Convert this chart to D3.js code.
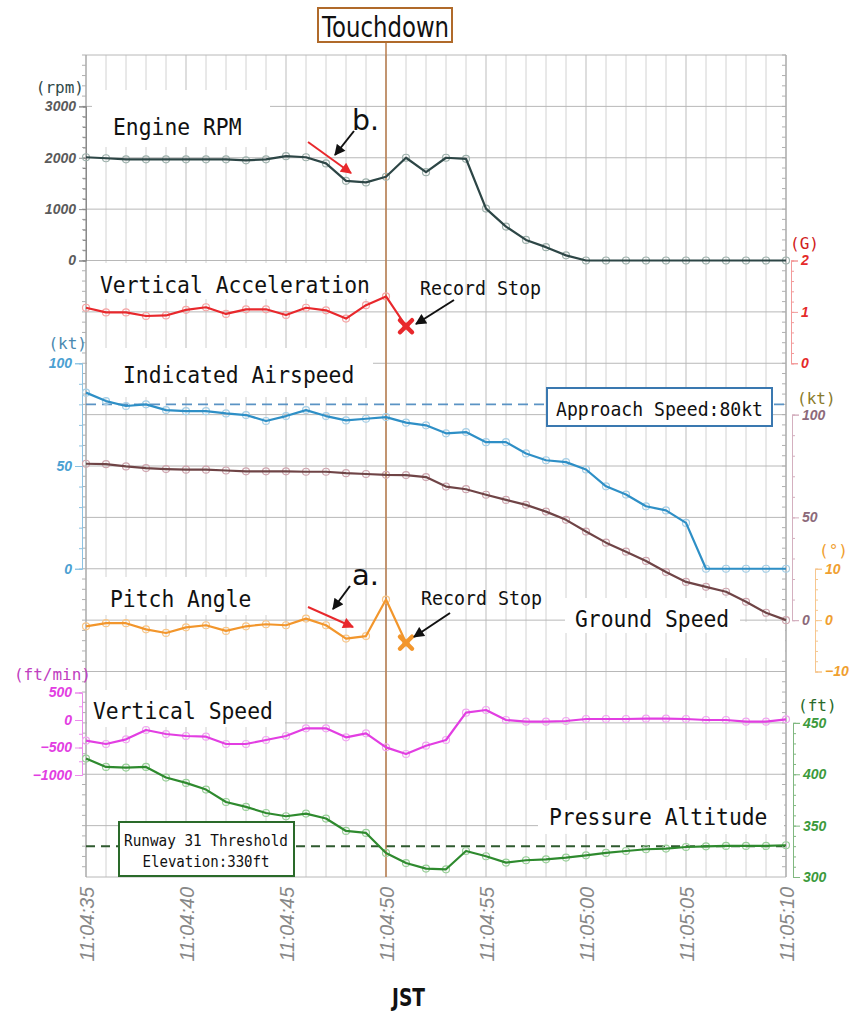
<!DOCTYPE html>
<html>

<head>
  <meta charset="UTF-8">
  <style>
    body { margin: 0; background: #fff; }
    svg { display: block; }
    .mono { font-family: "DejaVu Sans Mono", monospace; }
    .ax .tick text { font-family: "Liberation Sans", Arial, sans-serif; font-style: italic; font-weight: bold; font-size: 14px; }
  </style>
</head>

<body>
  <svg></svg>
  <script src="https://d3js.org/d3.v7.min.js"></script>

  <script>

    let width = 858, height = 1012;

    let parse = d3.timeParse("%H:%M:%S");

    // x axis tick labels (JST)
    let xTickLabels = ["11:04:35", "11:04:40", "11:04:45", "11:04:50", "11:04:55", "11:05:00", "11:05:05", "11:05:10"];
    let touchdownTime = "11:04:50";

    // one sample per second starting 11:04:35
    let t0 = parse(xTickLabels[0]);
    let times = d3.range(36).map(s => new Date(+t0 + s * 1000));

    // Engine RPM
    let rpm = [2010, 1990, 1970, 1970, 1970, 1970, 1970, 1970, 1950, 1970, 2030, 2010, 1890, 1550, 1520, 1630,
      2000, 1720, 2000, 1980, 1010, 660, 400, 260, 100, 0, 0, 0, 0, 0, 0, 0, 0, 0, 0, 0];

    // Vertical acceleration (G) - record stops after 17 samples
    let vAccel = [1.08, 0.99, 0.99, 0.92, 0.93, 1.04, 1.09, 0.96, 1.05, 1.05, 0.94, 1.08, 1.03, 0.87, 1.13, 1.30, 0.72];

    // Indicated airspeed (kt)
    let ias = [85.7, 81.6, 79.2, 80.0, 77.2, 76.7, 76.7, 75.6, 74.8, 71.9, 74.3, 77.2, 74.3, 72.2, 73.0, 73.8,
      71.1, 69.8, 65.9, 66.5, 61.6, 61.6, 56.1, 52.8, 51.9, 48.3, 40.1, 36.1, 30.4, 28.4, 22.3, 0, 0, 0, 0, 0];

    // Ground speed (kt)
    let gs = [76.1, 75.9, 74.8, 74.0, 73.5, 73.2, 73.2, 72.8, 72.4, 72.4, 72.4, 72.2, 72.2, 71.5, 71.1, 70.7,
      70.6, 69.6, 65.0, 63.7, 61.0, 58.5, 56.1, 52.8, 48.8, 43.1, 37.7, 33.3, 28.8, 23.4, 18.6, 16.2, 13.8, 8.9, 3.6, 0];

    // Pitch angle (deg) - record stops after 17 samples
    let pitch = [-1.2, -0.6, -0.6, -1.8, -2.5, -1.4, -1.0, -2.1, -1.2, -0.8, -1.0, 0.3, -1.0, -3.6, -3.1, 4.0, -4.4];

    // Vertical speed (ft/min)
    let vSpeed = [-376, -436, -351, -182, -255, -291, -303, -436, -436, -364, -291, -151, -151, -315, -242, -497,
      -618, -467, -364, 133, 182, 0, -30, -30, -18, 18, 18, 18, 24, 24, 18, 0, 0, -30, -30, 12];

    // Pressure altitude (ft)
    let alt = [415.3, 407.1, 406.5, 407.1, 396.8, 391.6, 385.1, 373.0, 368.2, 362.3, 359.1, 361.7, 356.9, 344.8,
      342.9, 323.4, 313.6, 308.2, 307.5, 325.3, 320.2, 314.0, 316.3, 317.2, 318.9, 321.1, 323.4, 325.3, 327.0,
      327.7, 329.2, 329.9, 330.2, 330.2, 330.2, 330.9];

    let approachSpeed = 80;
    let thresholdElev = 330;

    let svg = d3.select("svg").attr("width", width).attr("height", height);

    let plotL = 86, plotR = 786, plotT = 55, plotB = 877;

    let x = d3.scaleTime()
      .domain([parse(xTickLabels[0]), parse(xTickLabels[xTickLabels.length - 1])])
      .range([plotL, plotR]);

    let row = d3.scaleLinear().domain([0, 16]).range([plotT, plotB]);

    let yRpm = d3.scaleLinear().domain([0, 3000]).range([row(4), row(1)]);
    let yG = d3.scaleLinear().domain([0, 2]).range([row(6), row(4)]);
    let yIas = d3.scaleLinear().domain([0, 100]).range([row(10), row(6)]);
    let yGs = d3.scaleLinear().domain([0, 100]).range([row(11), row(7)]);
    let yPitch = d3.scaleLinear().domain([-10, 10]).range([row(12), row(10)]);
    let yVs = d3.scaleLinear().domain([-1000, 500]).range([775, 692.5]);
    let yAlt = d3.scaleLinear().domain([300, 450]).range([row(16), row(13)]);

    // grid
    let grid = svg.append("g");
    grid.selectAll("line.v")
      .data(times)
      .enter().append("line")
      .attr("x1", d => x(d)).attr("x2", d => x(d))
      .attr("y1", plotT).attr("y2", plotB)
      .attr("stroke", (d, i) => i % 5 == 0 ? "#bdbdbd" : "#d2d2d2")
      .attr("stroke-width", 1);
    grid.selectAll("line.h")
      .data(d3.range(17))
      .enter().append("line")
      .attr("x1", plotL).attr("x2", plotR)
      .attr("y1", d => row(d)).attr("y2", d => row(d))
      .attr("stroke", "#b8b8b8")
      .attr("stroke-width", 1);

    // frame edges with small ticks
    [plotL, plotR].forEach(px => {
      grid.append("line").attr("x1", px).attr("x2", px).attr("y1", plotT).attr("y2", plotB)
        .attr("stroke", "#a0a0a0");
    });
    grid.selectAll("line.ml")
      .data(d3.range(0, 80))
      .enter().append("line")
      .attr("x1", plotL - 4).attr("x2", plotL)
      .attr("y1", d => row(d / 5)).attr("y2", d => row(d / 5))
      .attr("stroke", "#b0b0b0");
    grid.selectAll("line.mr")
      .data(d3.range(0, 80))
      .enter().append("line")
      .attr("x1", plotR - 4).attr("x2", plotR)
      .attr("y1", d => row(d / 5)).attr("y2", d => row(d / 5))
      .attr("stroke", "#b0b0b0");

    // white label boxes hiding the grid
    let whiteBoxes = [
      [92, 90, 270, 147], [90, 263, 377, 299], [87, 348, 373, 397], [98, 577, 267, 615],
      [565, 598, 740, 633], [723, 622, 785, 658], [87, 690, 285, 727], [538, 800, 784, 834]
    ];
    svg.append("g").selectAll("rect")
      .data(whiteBoxes)
      .enter().append("rect")
      .attr("x", d => d[0]).attr("y", d => d[1])
      .attr("width", d => d[2] - d[0]).attr("height", d => d[3] - d[1])
      .attr("fill", "#fff");

    // reference dashed lines
    svg.append("line")
      .attr("x1", plotL).attr("x2", plotR)
      .attr("y1", yIas(approachSpeed)).attr("y2", yIas(approachSpeed))
      .attr("stroke", "#5b93c4").attr("stroke-width", 1.6).attr("stroke-dasharray", "10,6");
    svg.append("line")
      .attr("x1", plotL).attr("x2", plotR + 4)
      .attr("y1", yAlt(thresholdElev)).attr("y2", yAlt(thresholdElev))
      .attr("stroke", "#2f5a2f").attr("stroke-width", 2).attr("stroke-dasharray", "9,6");

    // touchdown line
    svg.append("line")
      .attr("x1", x(parse(touchdownTime))).attr("x2", x(parse(touchdownTime)))
      .attr("y1", 42).attr("y2", plotB)
      .attr("stroke", "#b87c4c").attr("stroke-width", 1.5);

    // axes helper
    function drawAxis(axisFn, scale, xPos, major, minor, lineColor, textColor, fmt) {
      let g = svg.append("g").attr("class", "ax").attr("transform", "translate(" + xPos + ",0)");
      g.call(axisFn(scale).tickValues(minor).tickSize(3).tickFormat(""));
      g.selectAll("path, line").attr("stroke", lineColor);
      let g2 = svg.append("g").attr("class", "ax").attr("transform", "translate(" + xPos + ",0)");
      g2.call(axisFn(scale).tickValues(major).tickSize(7).tickPadding(3).tickFormat(fmt || d3.format("d")));
      g2.selectAll("path, line").attr("stroke", lineColor);
      g2.selectAll("text").attr("fill", textColor);
      return g2;
    }

    drawAxis(d3.axisLeft, yRpm, plotL, [0, 1000, 2000, 3000], d3.range(0, 3001, 200), "#8a8a8a", "#5a5a5a");
    drawAxis(d3.axisLeft, yIas, 82, [0, 50, 100], d3.range(0, 101, 10), "#8cc2e2", "#4aa0d2");
    drawAxis(d3.axisLeft, yVs, 82, [-1000, -500, 0, 500], d3.range(-1000, 501, 250), "#ec8cec", "#e23ee2");
    drawAxis(d3.axisRight, yG, 791, [0, 1, 2], d3.range(0, 2.01, 0.2), "#f29a9a", "#e52a2a");
    drawAxis(d3.axisRight, yGs, 792, [0, 50, 100], d3.range(0, 101, 10), "#d4b0bf", "#8c6a7a");
    drawAxis(d3.axisRight, yPitch, 815, [-10, 0, 10], d3.range(-10, 10.1, 2), "#f6c68e", "#f0a030");
    drawAxis(d3.axisRight, yAlt, 793, [300, 350, 400, 450], d3.range(300, 451, 10), "#80b880", "#3c9a3c");

    // unit labels
    let units = [
      { t: "(rpm)", x: 84, y: 93, a: "end", c: "#2f4a4a" },
      { t: "(kt)", x: 87, y: 349, a: "end", c: "#4a88b0" },
      { t: "(ft/min)", x: 91, y: 680, a: "end", c: "#c040c0" },
      { t: "(G)", x: 790, y: 249, a: "start", c: "#d02020" },
      { t: "(kt)", x: 797, y: 404, a: "start", c: "#8a7a2a" },
      { t: "(°)", x: 819, y: 556, a: "start", c: "#f0a030" },
      { t: "(ft)", x: 798, y: 711, a: "start", c: "#2a6a2a" }
    ];
    svg.append("g").selectAll("text")
      .data(units)
      .enter().append("text")
      .attr("class", "mono")
      .attr("x", d => d.x).attr("y", d => d.y)
      .attr("text-anchor", d => d.a)
      .attr("fill", d => d.c)
      .attr("font-size", 16)
      .text(d => d.t);

    // x axis
    let xAxis = svg.append("g")
      .attr("transform", "translate(0," + plotB + ")")
      .call(d3.axisBottom(x).tickValues(xTickLabels.map(parse)).tickSize(0).tickFormat(d3.timeFormat("%H:%M:%S")));
    xAxis.select(".domain").remove();
    xAxis.selectAll("text")
      .attr("transform", "rotate(-90)")
      .attr("text-anchor", "end")
      .attr("x", -10).attr("y", 0).attr("dy", "0.36em")
      .attr("fill", "#888")
      .style("font-family", "'Liberation Sans', Arial, sans-serif")
      .style("font-style", "italic")
      .style("font-size", "19.5px");

    svg.append("text")
      .attr("x", 392).attr("y", 1006)
      .attr("font-family", "'DejaVu Sans', sans-serif")
      .attr("font-size", 25)
      .attr("font-weight", "bold")
      .attr("textLength", 33).attr("lengthAdjust", "spacingAndGlyphs")
      .attr("fill", "#111")
      .text("JST");

    // series
    let series = [
      { v: rpm, y: yRpm, c: "#2d4646", m: "#9fb2ad" },
      { v: vAccel, y: yG, c: "#e8282c", m: "#f6a5a5" },
      { v: ias, y: yIas, c: "#2e8fc6", m: "#a6cfe6" },
      { v: gs, y: yGs, c: "#6f4446", m: "#cfa7b0" },
      { v: pitch, y: yPitch, c: "#f2962c", m: "#f8c78a" },
      { v: vSpeed, y: yVs, c: "#e23ee2", m: "#f1a6f1" },
      { v: alt, y: yAlt, c: "#2e8a2e", m: "#99cf99" }
    ];

    series.forEach(s => {
      let g = svg.append("g");
      g.selectAll("circle")
        .data(s.v)
        .enter().append("circle")
        .attr("cx", (d, i) => x(times[i]))
        .attr("cy", d => s.y(d))
        .attr("r", 3.5)
        .attr("fill", "none")
        .attr("stroke", s.m)
        .attr("stroke-width", 1.2);
      g.append("path")
        .datum(s.v)
        .attr("fill", "none")
        .attr("stroke", s.c)
        .attr("stroke-width", 2.2)
        .attr("stroke-linejoin", "round")
        .attr("d", d3.line().x((d, i) => x(times[i])).y(d => s.y(d)));
    });

    // record stop crosses
    let crosses = [
      { t: times[vAccel.length - 1], y: yG(vAccel[vAccel.length - 1]), c: "#e8282c" },
      { t: times[pitch.length - 1], y: yPitch(pitch[pitch.length - 1]), c: "#f2962c" }
    ];
    svg.append("g").selectAll("path")
      .data(crosses)
      .enter().append("path")
      .attr("transform", d => "translate(" + x(d.t) + "," + d.y + ")")
      .attr("d", "M-6,-6L6,6M6,-6L-6,6")
      .attr("stroke", d => d.c)
      .attr("stroke-width", 4.5)
      .attr("stroke-linecap", "round");

    // arrow heads
    let defs = svg.append("defs");
    [["arrRed", "#e8282c"], ["arrBlack", "#111"]].forEach(a => {
      defs.append("marker")
        .attr("id", a[0])
        .attr("viewBox", "0 0 10 10")
        .attr("refX", 9).attr("refY", 5)
        .attr("markerUnits", "userSpaceOnUse")
        .attr("markerWidth", 12).attr("markerHeight", 11)
        .attr("orient", "auto")
        .append("path").attr("d", "M0,0L10,5L0,10z").attr("fill", a[1]);
    });

    let arrows = [
      { p: [308, 142, 351, 173], id: "arrRed", c: "#e8282c" },
      { p: [354, 131, 335, 155], id: "arrBlack", c: "#111" },
      { p: [308, 607, 353, 627], id: "arrRed", c: "#e8282c" },
      { p: [350, 586, 333, 609], id: "arrBlack", c: "#111" },
      { p: [454, 300, 416, 324], id: "arrBlack", c: "#111" },
      { p: [450, 613, 414, 637], id: "arrBlack", c: "#111" }
    ];
    svg.append("g").selectAll("line")
      .data(arrows)
      .enter().append("line")
      .attr("x1", d => d.p[0]).attr("y1", d => d.p[1])
      .attr("x2", d => d.p[2]).attr("y2", d => d.p[3])
      .attr("stroke", d => d.c)
      .attr("stroke-width", 2)
      .attr("marker-end", d => "url(#" + d.id + ")");

    // series labels
    let labels = [
      { t: "Engine RPM", x: 113, y: 135 },
      { t: "Vertical Acceleration", x: 100, y: 293 },
      { t: "Indicated Airspeed", x: 123, y: 383 },
      { t: "Pitch Angle", x: 110, y: 607 },
      { t: "Ground Speed", x: 575, y: 627 },
      { t: "Vertical Speed", x: 93, y: 719 },
      { t: "Pressure Altitude", x: 549, y: 825 }
    ];
    svg.append("g").selectAll("text")
      .data(labels)
      .enter().append("text")
      .attr("class", "mono")
      .attr("x", d => d.x).attr("y", d => d.y)
      .attr("font-size", 23)
      .attr("textLength", d => d.t.length * 12.85)
      .attr("lengthAdjust", "spacingAndGlyphs")
      .attr("fill", "#111")
      .text(d => d.t);

    // "Record Stop" notes
    [[420, 295], [421, 605]].forEach(p => {
      svg.append("text").attr("class", "mono")
        .attr("x", p[0]).attr("y", p[1])
        .attr("font-size", 19)
        .attr("textLength", 121).attr("lengthAdjust", "spacingAndGlyphs")
        .attr("fill", "#111")
        .text("Record Stop");
    });

    // a. / b.
    [["b.", 352, 130], ["a.", 352, 585]].forEach(p => {
      svg.append("text")
        .attr("x", p[1]).attr("y", p[2])
        .attr("font-family", "'DejaVu Sans', sans-serif")
        .attr("font-size", 29)
        .attr("textLength", 27).attr("lengthAdjust", "spacingAndGlyphs")
        .attr("fill", "#111")
        .text(p[0]);
    });

    // Touchdown box
    svg.append("rect")
      .attr("x", 318).attr("y", 8).attr("width", 134).attr("height", 34)
      .attr("fill", "#fff").attr("stroke", "#b06a2a").attr("stroke-width", 2);
    svg.append("text")
      .attr("x", 322).attr("y", 37)
      .attr("font-family", "'DejaVu Sans', sans-serif")
      .attr("font-size", 28)
      .attr("textLength", 127).attr("lengthAdjust", "spacingAndGlyphs")
      .attr("fill", "#111")
      .text("Touchdown");

    // Approach speed box
    svg.append("rect")
      .attr("x", 547).attr("y", 388).attr("width", 225).attr("height", 38)
      .attr("fill", "#fff").attr("stroke", "#3a78b0").attr("stroke-width", 2);
    svg.append("text").attr("class", "mono")
      .attr("x", 556).attr("y", 416)
      .attr("font-size", 20)
      .attr("textLength", 207).attr("lengthAdjust", "spacingAndGlyphs")
      .attr("fill", "#111")
      .text("Approach Speed:" + approachSpeed + "kt");

    // Runway threshold box
    svg.append("rect")
      .attr("x", 119).attr("y", 822).attr("width", 175).attr("height", 54)
      .attr("fill", "#fff").attr("stroke", "#2a6a2a").attr("stroke-width", 2);
    [["Runway 31 Threshold", 846, 164], ["Elevation:" + thresholdElev + "ft", 867, 127]].forEach(p => {
      svg.append("text").attr("class", "mono")
        .attr("x", 206).attr("y", p[1])
        .attr("text-anchor", "middle")
        .attr("font-size", 16)
        .attr("textLength", p[2]).attr("lengthAdjust", "spacingAndGlyphs")
        .attr("fill", "#111")
        .text(p[0]);
    });

  </script>

</body>

</html>
